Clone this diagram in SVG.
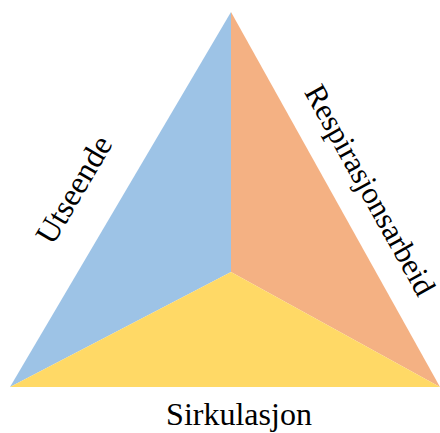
<svg xmlns="http://www.w3.org/2000/svg" width="440" height="433" viewBox="0 0 440 433">
<style>
.lbl{font-family:"Liberation Serif","Times New Roman",serif;font-size:32px;fill:#000}
</style>
<rect width="440" height="433" fill="#fff"/>
<g id="utseende">
<polygon points="231,12 10,387 231,272" fill="#9DC3E6"/>
<text class="lbl" text-anchor="middle" transform="translate(83,195) rotate(-59.5)">Utseende</text>
</g>
<g id="respirasjonsarbeid">
<polygon points="231,12 440,387 231,272" fill="#F4B183"/>
<text class="lbl" text-anchor="middle" style="font-size:31px" transform="translate(361,195) rotate(60.9)">Respirasjonsarbeid</text>
</g>
<g id="sirkulasjon">
<polygon points="10,387 231,272 440,387" fill="#FFD966"/>
<text class="lbl" x="239" y="425" text-anchor="middle">Sirkulasjon</text>
</g>
<g id="connectors"/>
</svg>
